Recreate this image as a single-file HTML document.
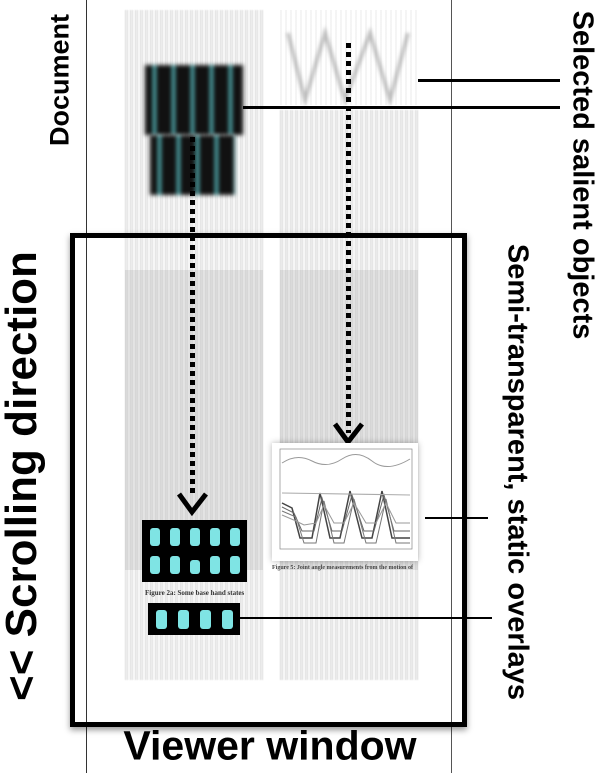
<!DOCTYPE html>
<html><head><style>
body{margin:0;width:600px;height:773px;background:#fff;position:relative;overflow:hidden;font-family:"Liberation Sans",sans-serif;}
.a{position:absolute;}
.tex{background:repeating-linear-gradient(90deg,rgba(110,110,110,.35) 0 1px,rgba(200,200,200,.15) 1px 2px,rgba(80,80,80,.28) 2px 3px,rgba(230,230,230,.1) 3px 5px);filter:blur(.4px);}
.lbl{position:absolute;font-weight:bold;white-space:nowrap;color:#000;}
.dot{width:5px;background:repeating-linear-gradient(180deg,#000 0 5px,transparent 5px 9px);}
</style></head><body>
<div class="a" style="left:86px;top:0;width:1px;height:773px;background:#333"></div>
<div class="a" style="left:451px;top:0;width:1px;height:773px;background:#555"></div>

<div class="a tex" style="left:125px;top:10px;width:138px;height:670px;opacity:.75"></div>
<div class="a tex" style="left:280px;top:110px;width:138px;height:570px;opacity:.8"></div>
<div class="a" style="left:125px;top:270px;width:138px;height:300px;background:rgba(120,120,120,.15)"></div>
<div class="a" style="left:280px;top:270px;width:138px;height:300px;background:rgba(120,120,120,.15)"></div>
<div class="a" style="left:280px;top:10px;width:138px;height:95px;background:repeating-linear-gradient(90deg,rgba(170,170,170,.12) 0 2px,transparent 2px 5px)"></div>
<svg class="a" style="left:280px;top:25px;filter:blur(1.5px)" width="140" height="80"><polyline points="8,8 25,75 45,8 65,75 90,8 110,75 128,8" fill="none" stroke="#999" stroke-width="4" opacity=".6"/></svg>

<div class="a" style="left:145px;top:65px;width:98px;height:70px;background:repeating-linear-gradient(90deg,#111 0 8px,#5cc8cc 8px 11px,#111 11px 19px);filter:blur(2px)"></div>
<div class="a" style="left:150px;top:135px;width:85px;height:60px;background:repeating-linear-gradient(90deg,#111 0 8px,#5cc8cc 8px 11px,#111 11px 19px);filter:blur(2px)"></div>

<div class="a" style="left:70px;top:233px;width:387px;height:484px;border:5px solid #000;box-shadow:0 3px 6px rgba(0,0,0,.4)"></div>

<div class="a dot" style="left:190px;top:137px;height:360px"></div>
<div class="a dot" style="left:346px;top:43px;height:390px"></div>
<svg class="a" style="left:175px;top:490px" width="36" height="26"><polyline points="4,4 17,22 31,4" fill="none" stroke="#000" stroke-width="5"/></svg>
<svg class="a" style="left:331px;top:420px" width="36" height="26"><polyline points="4,4 17,22 31,4" fill="none" stroke="#000" stroke-width="5"/></svg>

<svg class="a" style="left:142px;top:520px" width="105" height="62"><rect width="105" height="62" fill="#000"/>
<g fill="#7fe4e4"><rect x="8" y="8" width="10" height="18" rx="3"/><rect x="28" y="8" width="10" height="18" rx="3"/><rect x="48" y="8" width="10" height="18" rx="3"/><rect x="68" y="8" width="10" height="18" rx="3"/><rect x="88" y="8" width="10" height="18" rx="3"/>
<rect x="8" y="36" width="10" height="18" rx="3"/><rect x="28" y="36" width="10" height="18" rx="3"/><rect x="48" y="40" width="10" height="14" rx="3"/><rect x="68" y="36" width="10" height="18" rx="3"/><rect x="88" y="36" width="10" height="18" rx="3"/></g></svg>
<div class="a" style="left:145px;top:589px;font-size:7px;font-family:'Liberation Serif',serif;font-weight:bold;color:#333">Figure 2a: Some base hand states</div>
<svg class="a" style="left:148px;top:603px" width="92" height="32"><rect width="92" height="32" fill="#000"/>
<g fill="#7fe4e4"><rect x="8" y="7" width="11" height="19" rx="3"/><rect x="30" y="7" width="11" height="19" rx="3"/><rect x="52" y="7" width="11" height="19" rx="3"/><rect x="74" y="7" width="11" height="19" rx="3"/></g></svg>

<div class="a" style="left:272px;top:443px;width:146px;height:118px;background:#fff;box-shadow:0 0 6px rgba(0,0,0,.3)">
<svg width="146" height="118"><rect x="8" y="6" width="132" height="100" fill="none" stroke="#888" stroke-width=".7"/>
<path d="M10 20 Q25 10 40 18 T70 16 T100 18 T138 16" fill="none" stroke="#999"/>
<g fill="none"><path d="M10 60 L20 65 L28 95 L40 95 L48 50 L58 95 L68 95 L78 48 L90 95 L100 95 L110 48 L120 95 L138 95" stroke="#444" stroke-width="1.5"/>
<path d="M10 64 L22 70 L30 88 L42 88 L50 55 L60 88 L70 88 L80 52 L92 88 L102 88 L112 52 L122 88 L138 88" stroke="#666"/>
<path d="M10 68 L24 74 L32 100 L44 100 L52 58 L62 100 L72 100 L82 56 L94 100 L104 100 L114 56 L124 100 L138 100" stroke="#777"/>
<path d="M10 72 L24 78 L32 82 L44 80 L52 62 L62 80 L72 80 L82 60 L94 80 L104 80 L114 60 L124 80 L138 80" stroke="#999"/>
<path d="M10 50 L138 52" stroke="#aaa"/></g></svg></div>
<div class="a" style="left:272px;top:565px;font-size:6px;font-family:'Liberation Serif',serif;color:#444;font-weight:bold">Figure 5: Joint angle measurements from the motion of</div>

<div class="a" style="left:418px;top:79px;width:142px;height:3px;background:#000"></div>
<div class="a" style="left:243px;top:106px;width:317px;height:3px;background:#000"></div>
<div class="a" style="left:425px;top:517px;width:63px;height:2px;background:#000"></div>
<div class="a" style="left:240px;top:617px;width:252px;height:2px;background:#000"></div>

<div class="lbl" style="left:60px;top:80px;font-size:27px;transform:translate(-50%,-50%) rotate(-90deg)">Document</div>
<div class="lbl" style="left:22px;top:476px;font-size:44px;transform:translate(-50%,-50%) rotate(-90deg)">&lt;&lt; Scrolling direction</div>
<div class="lbl" style="left:270px;top:746px;font-size:41px;transform:translate(-50%,-50%)">Viewer window</div>
<div class="lbl" style="left:582px;top:175px;font-size:29px;transform:translate(-50%,-50%) rotate(90deg)">Selected salient objects</div>
<div class="lbl" style="left:517px;top:472px;font-size:29px;transform:translate(-50%,-50%) rotate(90deg)">Semi-transparent, static overlays</div>
</body></html>
